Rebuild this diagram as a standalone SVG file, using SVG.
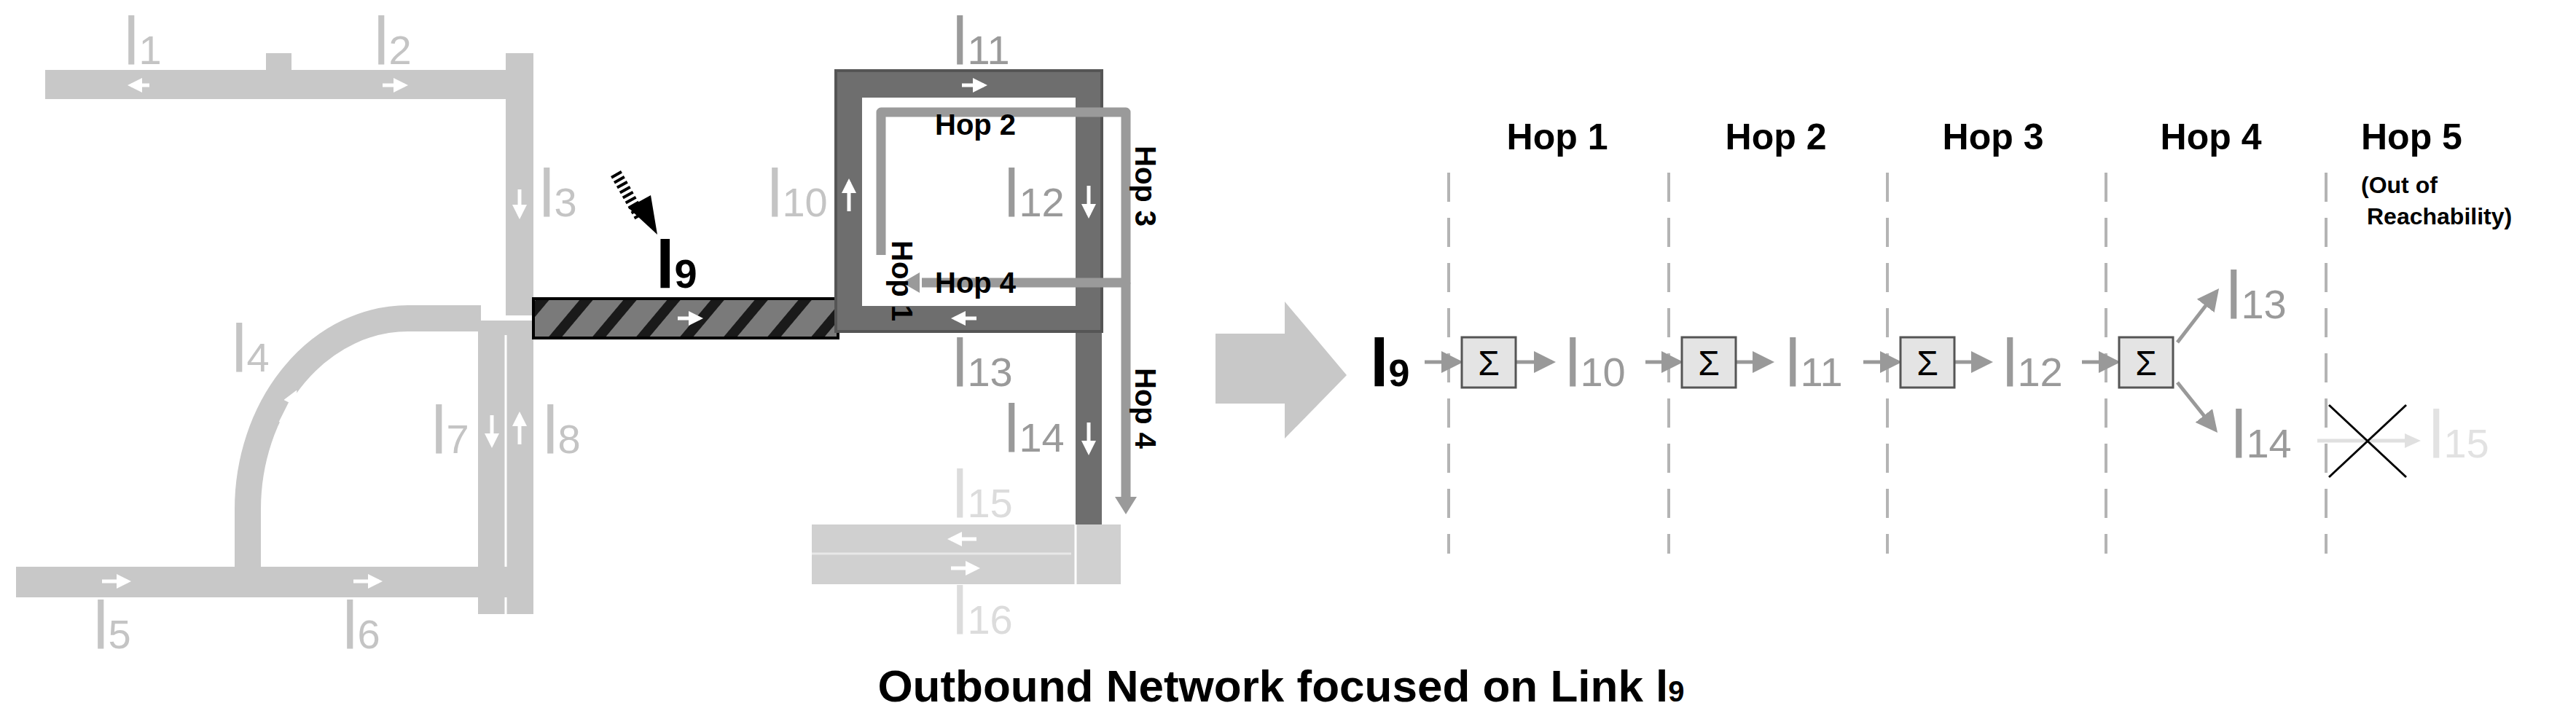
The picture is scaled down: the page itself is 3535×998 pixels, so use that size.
<svg xmlns="http://www.w3.org/2000/svg" width="3535" height="998" viewBox="0 0 3535 998">
<defs>
<style>
.t{font-family:"Liberation Sans Narrow","Liberation Sans",Arial,sans-serif}
.road{fill:#c8c8c8}
.dark{fill:#6e6e6e}
.ll{fill:#c4c4c4}
.lm{fill:#9a9a9a}
.hop{font-family:"Liberation Sans Narrow","Liberation Sans",Arial,sans-serif;font-weight:bold;font-size:50px;fill:#000}
.dash{stroke:#b4b4b4;stroke-width:4;stroke-dasharray:40 22}
.con{stroke:#999;stroke-width:5;fill:none;marker-end:url(#ah)}
.sig{fill:#e4e4e4;stroke:#555;stroke-width:3}
.wa{stroke:#fff;stroke-width:5;fill:none;marker-end:url(#wh)}
.hp{stroke:#9a9a9a;stroke-width:13;fill:none;stroke-linejoin:round}
</style>
<marker id="ah" markerWidth="6" markerHeight="6" refX="5" refY="3" orient="auto"><path d="M0,0 L6,3 L0,6 z" fill="#999"/></marker>
<marker id="wh" markerWidth="4" markerHeight="4" refX="3" refY="2" orient="auto"><path d="M0,0 L4,2 L0,4 z" fill="#fff"/></marker>
<marker id="gh" markerWidth="3" markerHeight="3" refX="1.5" refY="1.5" orient="auto"><path d="M0,0 L3,1.5 L0,3 z" fill="#9a9a9a"/></marker>
<pattern id="hatch" width="46" height="46" patternUnits="userSpaceOnUse" patternTransform="rotate(40)"><rect width="46" height="46" fill="#7a7a7a"/><rect width="14" height="46" fill="#1a1a1a"/></pattern>
</defs>

<g id="roads-left">
<rect class="road" x="62" y="96" width="670" height="40"/>
<rect class="road" x="365" y="73" width="35" height="30"/>
<rect class="road" x="694" y="73" width="38" height="360"/>
<rect class="road" x="656" y="440" width="76" height="403"/>
<line x1="694" y1="460" x2="694" y2="843" stroke="#fff" stroke-width="3"/>
<path d="M 660 437 L 560 437 A 220 262 0 0 0 340 699 L 340 800" fill="none" stroke="#c8c8c8" stroke-width="36"/>
<rect class="road" x="22" y="778" width="710" height="42"/>
<line class="wa" x1="205" y1="117" x2="180" y2="117"/>
<line class="wa" x1="525" y1="117" x2="555" y2="117"/>
<line class="wa" x1="713" y1="260" x2="713" y2="296"/>
<line class="wa" x1="675" y1="570" x2="675" y2="610"/>
<line class="wa" x1="713" y1="610" x2="713" y2="570"/>
<line class="wa" x1="385" y1="580" x2="405" y2="540"/>
<line class="wa" x1="140" y1="798" x2="175" y2="798"/>
<line class="wa" x1="485" y1="798" x2="520" y2="798"/>
</g>

<g id="link-l9">
<rect x="732" y="410" width="418" height="54" fill="url(#hatch)" stroke="#000" stroke-width="4"/>
<line class="wa" x1="930" y1="437" x2="960" y2="437"/>
<line x1="845" y1="238" x2="880" y2="300" stroke="#000" stroke-width="16" stroke-dasharray="4 4"/>
<path d="M 862 285 L 902 322 L 893 268 z" fill="#000"/>
</g>

<g id="loop">
<path class="dark" fill-rule="evenodd" d="M1147 97 H1512 V720 H1476 V455 H1147 z M1183 134 V420 H1476 V134 z"/>
<rect x="1147" y="97" width="365" height="358" fill="none" stroke="#555" stroke-width="4"/>
<line class="wa" x1="1320" y1="117" x2="1350" y2="117"/>
<line class="wa" x1="1340" y1="437" x2="1310" y2="437"/>
<line class="wa" x1="1165" y1="290" x2="1165" y2="250"/>
<line class="wa" x1="1494" y1="255" x2="1494" y2="295"/>
<line class="wa" x1="1494" y1="580" x2="1494" y2="620"/>
</g>

<g id="roads-bottom-right">
<rect x="1114" y="720" width="424" height="82" fill="#d0d0d0"/>
<line x1="1114" y1="760" x2="1470" y2="760" stroke="#e8e8e8" stroke-width="3"/>
<line x1="1476" y1="720" x2="1476" y2="802" stroke="#fff" stroke-width="3"/>
<line class="wa" x1="1340" y1="740" x2="1305" y2="740"/>
<line class="wa" x1="1305" y1="780" x2="1340" y2="780"/>
</g>

<g id="hop-path">
<path class="hp" d="M1209 350 V154 H1545 V388 H1265"/>
<path d="M1262 374 L1238 388 L1262 402 z" fill="#9a9a9a"/>
<path class="hp" d="M1545 388 V685"/>
<path d="M1530 682 L1545 706 L1560 682 z" fill="#9a9a9a"/>
<text class="t" x="1283" y="185" font-size="40" font-weight="bold">Hop 2</text>
<text class="t" x="1283" y="402" font-size="40" font-weight="bold">Hop 4</text>
<text class="t" font-size="40" font-weight="bold" transform="translate(1224,330) rotate(90)">Hop 1</text>
<text class="t" font-size="40" font-weight="bold" transform="translate(1558,200) rotate(90)">Hop 3</text>
<text class="t" font-size="40" font-weight="bold" transform="translate(1558,505) rotate(90)">Hop 4</text>
</g>

<g id="labels-left" class="t">
<text class="ll" x="170" y="88" font-size="92">l<tspan font-size="56">1</tspan></text>
<text class="ll" x="513" y="88" font-size="92">l<tspan font-size="56">2</tspan></text>
<text class="ll" x="740" y="297" font-size="92">l<tspan font-size="56">3</tspan></text>
<text class="ll" x="318" y="510" font-size="92">l<tspan font-size="56">4</tspan></text>
<text class="ll" x="128" y="890" font-size="92">l<tspan font-size="56">5</tspan></text>
<text class="ll" x="470" y="890" font-size="92">l<tspan font-size="56">6</tspan></text>
<text class="ll" x="592" y="622" font-size="92">l<tspan font-size="56">7</tspan></text>
<text class="ll" x="745" y="622" font-size="92">l<tspan font-size="56">8</tspan></text>
<text x="900" y="395" font-size="92" font-weight="bold" fill="#000">l<tspan font-size="56">9</tspan></text>
<text class="ll" x="1053" y="297" font-size="92">l<tspan font-size="56">10</tspan></text>
<text class="lm" x="1307" y="88" font-size="92">l<tspan font-size="56">11</tspan></text>
<text class="lm" x="1378" y="297" font-size="92">l<tspan font-size="56">12</tspan></text>
<text class="lm" x="1307" y="530" font-size="92">l<tspan font-size="56">13</tspan></text>
<text class="lm" x="1378" y="620" font-size="92">l<tspan font-size="56">14</tspan></text>
<text x="1307" y="710" font-size="92" fill="#dcdcdc">l<tspan font-size="56">15</tspan></text>
<text x="1307" y="870" font-size="92" fill="#dcdcdc">l<tspan font-size="56">16</tspan></text>
</g>

<g id="big-arrow">
<path d="M1668 458 H1763 V414 L1848 515 L1763 602 V554 H1668 z" fill="#c8c8c8"/>
</g>

<g id="hop-headers">
<text class="hop" x="2137" y="205" text-anchor="middle">Hop 1</text>
<text class="hop" x="2437" y="205" text-anchor="middle">Hop 2</text>
<text class="hop" x="2735" y="205" text-anchor="middle">Hop 3</text>
<text class="hop" x="3034" y="205" text-anchor="middle">Hop 4</text>
<text class="hop" x="3240" y="205">Hop 5</text>
<text class="t" x="3240" y="265" font-size="32" font-weight="bold">(Out of</text>
<text class="t" x="3248" y="308" font-size="32" font-weight="bold">Reachability)</text>
</g>

<g id="dashes">
<line class="dash" x1="1988" y1="237" x2="1988" y2="760"/>
<line class="dash" x1="2290" y1="237" x2="2290" y2="760"/>
<line class="dash" x1="2590" y1="237" x2="2590" y2="760"/>
<line class="dash" x1="2890" y1="237" x2="2890" y2="760"/>
<line class="dash" x1="3192" y1="237" x2="3192" y2="760"/>
</g>

<g id="connectors">
<line class="con" x1="1955" y1="497" x2="2003" y2="497"/>
<line class="con" x1="2081" y1="497" x2="2130" y2="497"/>
<line class="con" x1="2258" y1="497" x2="2305" y2="497"/>
<line class="con" x1="2383" y1="497" x2="2430" y2="497"/>
<line class="con" x1="2557" y1="497" x2="2605" y2="497"/>
<line class="con" x1="2683" y1="497" x2="2730" y2="497"/>
<line class="con" x1="2857" y1="497" x2="2905" y2="497"/>
<line class="con" x1="2988" y1="470" x2="3042" y2="400"/>
<line class="con" x1="2988" y1="525" x2="3040" y2="590"/>
<line x1="3180" y1="605" x2="3310" y2="605" stroke="#e0e0e0" stroke-width="5"/>
<path d="M3300 595 L3322 605 L3300 615 z" fill="#e0e0e0"/>
<line x1="3196" y1="655" x2="3302" y2="556" stroke="#000" stroke-width="3"/>
<line x1="3196" y1="556" x2="3302" y2="655" stroke="#000" stroke-width="3"/>
</g>

<g id="sum1"><rect class="sig" x="2006" y="463" width="74" height="69"/><text class="t" x="2043" y="515" font-size="48" text-anchor="middle">Σ</text></g>
<g id="sum2"><rect class="sig" x="2308" y="463" width="74" height="69"/><text class="t" x="2345" y="515" font-size="48" text-anchor="middle">Σ</text></g>
<g id="sum3"><rect class="sig" x="2608" y="463" width="74" height="69"/><text class="t" x="2645" y="515" font-size="48" text-anchor="middle">Σ</text></g>
<g id="sum4"><rect class="sig" x="2908" y="463" width="74" height="69"/><text class="t" x="2945" y="515" font-size="48" text-anchor="middle">Σ</text></g>

<g id="labels-right" class="t">
<text x="1880" y="530" font-size="92" font-weight="bold" fill="#000">l<tspan font-size="52">9</tspan></text>
<text class="lm" x="2148" y="530" font-size="92">l<tspan font-size="56">10</tspan></text>
<text class="lm" x="2450" y="530" font-size="92">l<tspan font-size="56">11</tspan></text>
<text class="lm" x="2748" y="530" font-size="92">l<tspan font-size="56">12</tspan></text>
<text class="lm" x="3055" y="437" font-size="92">l<tspan font-size="56">13</tspan></text>
<text class="lm" x="3062" y="628" font-size="92">l<tspan font-size="56">14</tspan></text>
<text x="3333" y="628" font-size="92" fill="#e2e2e2">l<tspan font-size="56">15</tspan></text>
</g>

<g id="title">
<text class="t" x="1758" y="963" font-size="62" font-weight="bold" text-anchor="middle">Outbound Network focused on Link l<tspan font-size="40">9</tspan></text>
</g>
</svg>
